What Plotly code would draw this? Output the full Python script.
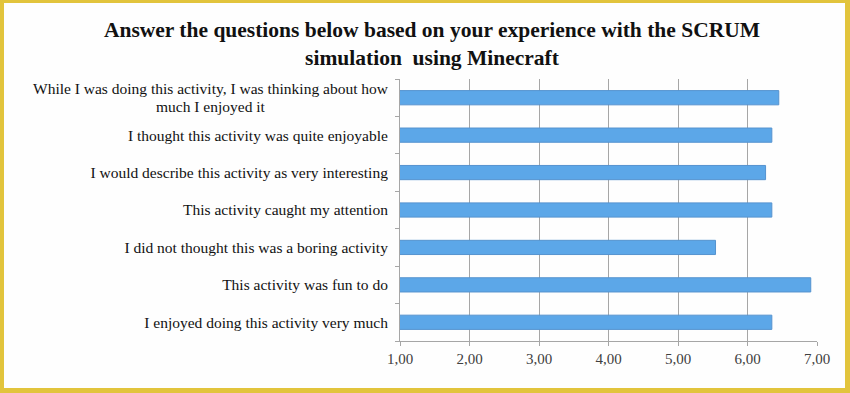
import plotly.graph_objects as go

categories = [
    "While I was doing this activity, I was thinking about how much I enjoyed it",
    "I thought this activity was quite enjoyable",
    "I would describe this activity as very interesting",
    "This activity caught my attention",
    "I did not thought this was a boring activity",
    "This activity was fun to do",
    "I enjoyed doing this activity very much",
]
first_label_lines = [
    "While I was doing this activity, I was thinking about how",
    "much I enjoyed it",
]
values = [6.45, 6.35, 6.26, 6.35, 5.54, 6.91, 6.35]
x_ticks = [1, 2, 3, 4, 5, 6, 7]

W, H = 850, 393
ML, MR, MT, MB = 400, 33, 79, 52
FONT = "Liberation Serif, Times New Roman, serif"
BORDER = "#e2c43c"

fig = go.Figure(go.Bar(
    y=categories, x=values, orientation="h", base=0,
    marker=dict(color="#5ca7e8", line=dict(color="#5593cf", width=1)),
    width=0.38,
))

pw = W - ML - MR
ph = H - MT - MB
def px(x):
    return (x - ML) / pw
def py(y):
    return 1 - (y - MT) / ph

ticktext = [""] + categories[1:]
for line, shift in zip(first_label_lines, [9.5, -8.5]):
    fig.add_annotation(
        x=px(211), xref="paper", y=categories[0], yref="y", yshift=shift,
        text=line, showarrow=False, xanchor="center", borderpad=0,
        font=dict(family=FONT, size=15.5, color="#111111"),
    )

shapes = [
    dict(type="rect", xref="paper", yref="paper", x0=px(0), x1=px(4), y0=py(0), y1=py(393), fillcolor=BORDER, line_width=0, layer="above"),
    dict(type="rect", xref="paper", yref="paper", x0=px(845), x1=px(850), y0=py(0), y1=py(393), fillcolor=BORDER, line_width=0, layer="above"),
    dict(type="rect", xref="paper", yref="paper", x0=px(0), x1=px(850), y0=py(0), y1=py(3), fillcolor=BORDER, line_width=0, layer="above"),
    dict(type="rect", xref="paper", yref="paper", x0=px(0), x1=px(850), y0=py(388), y1=py(393), fillcolor=BORDER, line_width=0, layer="above"),
]

fig.update_layout(
    width=W, height=H,
    margin=dict(l=ML, r=MR, t=MT, b=MB),
    paper_bgcolor="#fefefe", plot_bgcolor="#fefefe",
    separators=",.",
    showlegend=False,
    title=dict(
        text="Answer the questions below based on your experience with the SCRUM<br>simulation  using Minecraft",
        x=432 / W, xanchor="center", xref="container",
        y=1 - 37 / H, yanchor="top", yref="container",
        font=dict(family=FONT, size=21.5, color="#111111", weight="bold"),
    ),
    xaxis=dict(
        range=[1, 7], tickvals=x_ticks, tickformat=".2f",
        showgrid=True, gridcolor="#a6a6a6", gridwidth=1,
        showline=True, linecolor="#a6a6a6", linewidth=1,
        ticks="outside", ticklen=4, tickcolor="#a6a6a6",
        tickfont=dict(family=FONT, size=15, color="#404040"),
        zeroline=False, fixedrange=True,
    ),
    yaxis=dict(
        autorange="reversed",
        tickvals=categories, ticktext=ticktext,
        showline=True, linecolor="#a6a6a6", linewidth=1,
        ticks="outside", tickson="boundaries", ticklen=4, tickcolor="#a6a6a6",
        ticklabelstandoff=8,
        tickfont=dict(family=FONT, size=15.5, color="#111111"),
        showgrid=False, fixedrange=True,
    ),
    shapes=shapes,
)

fig.write_html(
    "out.html",
    config={"displayModeBar": False},
    post_script="document.body.style.margin='0';document.body.style.overflow='hidden';",
)
